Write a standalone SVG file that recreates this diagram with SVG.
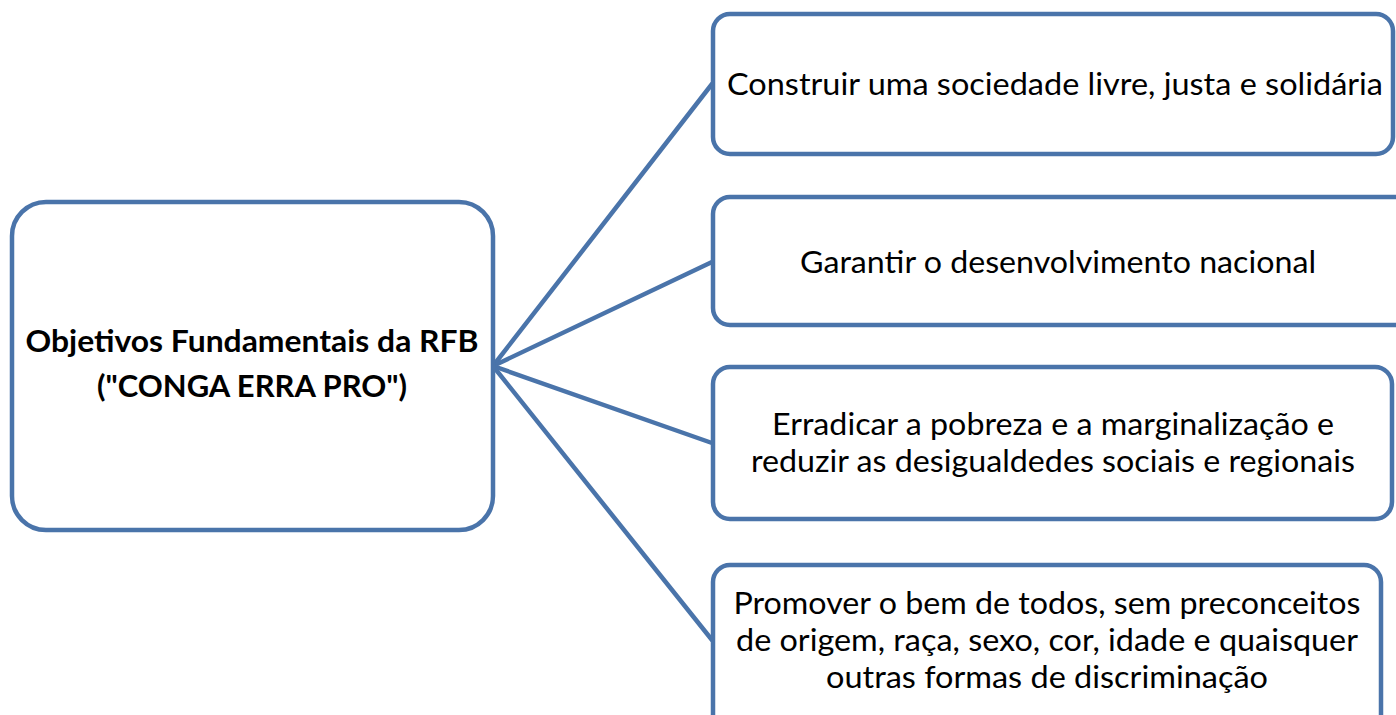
<svg xmlns="http://www.w3.org/2000/svg" width="1396" height="715" viewBox="0 0 1396 715">
<style>
.box{fill:#fff;stroke:#4A74AA;stroke-width:4.5}
.con{stroke:#4A74AA;stroke-width:4.5;fill:none;stroke-linecap:round}
.t{font-family:Lato,"Open Sans","Liberation Sans",sans-serif;font-size:31px;fill:#000;text-anchor:middle}
.b{font-weight:bold}
</style>
<rect width="1396" height="715" fill="#fff"/>
<g id="connectors">
<line class="con" x1="493" y1="366" x2="712" y2="84"/>
<line class="con" x1="493" y1="366" x2="712" y2="262"/>
<line class="con" x1="493" y1="366" x2="712" y2="443"/>
<line class="con" x1="493" y1="366" x2="712" y2="640"/>
</g>
<g id="center">
<rect class="box" x="12" y="202" width="481" height="328" rx="34"/>
<text class="t b" x="252" y="352" textLength="453" lengthAdjust="spacingAndGlyphs">Objetivos Fundamentais da RFB</text>
<text class="t b" x="252" y="397" textLength="310" lengthAdjust="spacingAndGlyphs">("CONGA ERRA PRO")</text>
</g>
<g id="n1">
<rect class="box" x="713" y="14" width="680" height="140" rx="17"/>
<text class="t" x="1055" y="95" textLength="656" lengthAdjust="spacingAndGlyphs">Construir uma sociedade livre, justa e solidária</text>
</g>
<g id="n2">
<rect class="box" x="713" y="197" width="700" height="128" rx="17"/>
<text class="t" x="1058" y="273" textLength="516" lengthAdjust="spacingAndGlyphs">Garantir o desenvolvimento nacional</text>
</g>
<g id="n3">
<rect class="box" x="713" y="367" width="679" height="152" rx="17"/>
<text class="t" x="1053" y="435" textLength="562" lengthAdjust="spacingAndGlyphs">Erradicar a pobreza e a marginalização e</text>
<text class="t" x="1053" y="472" textLength="604" lengthAdjust="spacingAndGlyphs">reduzir as desigualdedes sociais e regionais</text>
</g>
<g id="n4">
<rect class="box" x="713" y="565" width="668" height="180" rx="17"/>
<text class="t" x="1047" y="614" textLength="627" lengthAdjust="spacingAndGlyphs">Promover o bem de todos, sem preconceitos</text>
<text class="t" x="1047" y="651" textLength="622" lengthAdjust="spacingAndGlyphs">de origem, raça, sexo, cor, idade e quaisquer</text>
<text class="t" x="1047" y="688" textLength="442" lengthAdjust="spacingAndGlyphs">outras formas de discriminação</text>
</g>
</svg>
